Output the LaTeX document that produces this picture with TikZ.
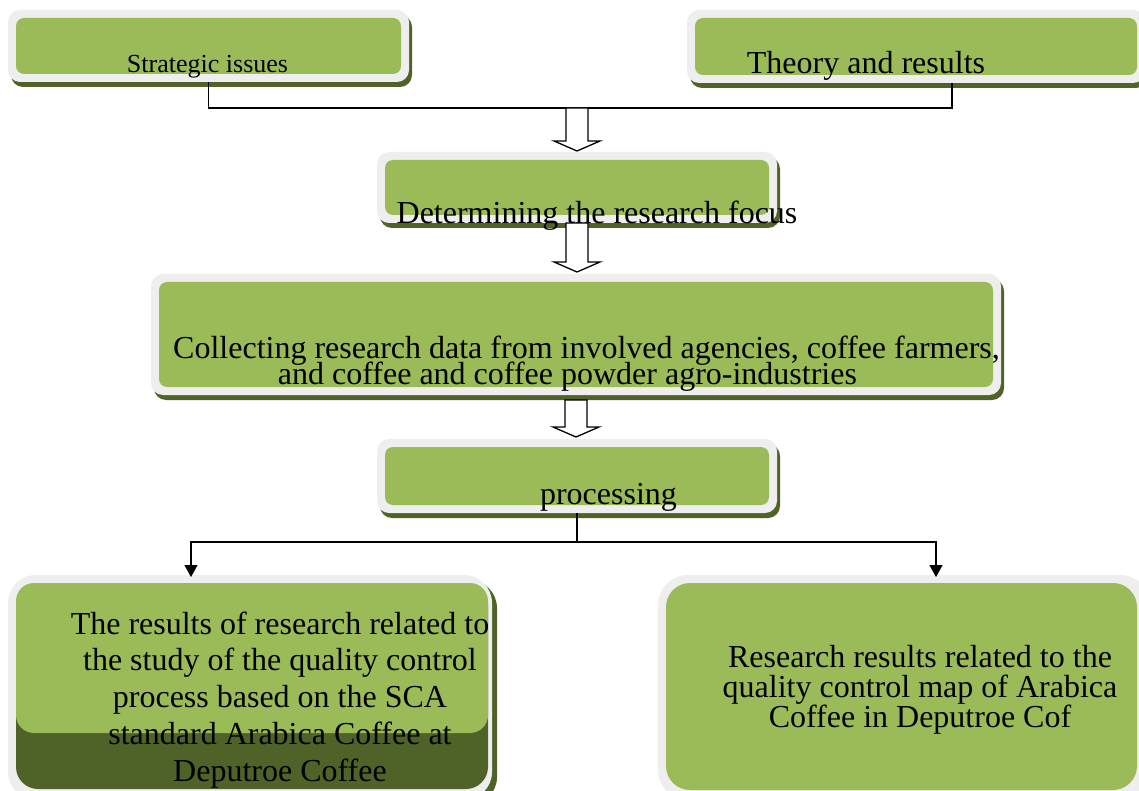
\documentclass[tikz,border=0pt]{standalone}
\usepackage{fontspec}
\setmainfont{Liberation Serif}
\usetikzlibrary{arrows.meta,calc}
\definecolor{boxgreen}{HTML}{9BBB59}
\definecolor{shadowolive}{HTML}{4F6228}
\definecolor{framegray}{HTML}{EEEEEE}
\newcommand\tightls{\setlength{\lineskiplimit}{-100pt}\setlength{\lineskip}{0pt}}
\newcommand\fsbig{\fontsize{32}{36.75}\selectfont\tightls}
\newcommand\fscoll{\fontsize{32}{26}\selectfont\tightls}
\newcommand\fsres{\fontsize{32}{30}\selectfont\tightls}
\newcommand\fssmall{\fontsize{26}{30}\selectfont}
\tikzset{
  frame/.style={rectangle, fill=framegray, inner sep=0pt, outer sep=0pt},
  conn/.style={line width=1.4pt, black},
  tip/.style={-{Triangle[width=13pt,length=12pt]}},
  txt/.style={inner sep=0pt, align=center, text=black},
}
% outer frame x1 y1 x2 y2, radius
\newcommand\gbox[6]{%
  \fill[shadowolive, rounded corners=#6] (#2+3,#3+5) rectangle (#4+3,#5+5);
  \node[frame, rounded corners=#6, minimum width={#4-#2}, minimum height={#5-#3}]
    (#1) at ({(#2+#4)/2},{(#3+#5)/2}) {};
  \fill[boxgreen, rounded corners=#6-4] (#2+8,#3+8) rectangle (#4-8,#5-8);
}
\newcommand\blockarrow[2]{%
  \draw[line width=1.3pt, fill=white] let \p1=#1, \p2=#2 in
    (\x1-11pt,\y1) -- (\x1-11pt,\y2+10pt) -- (\x1-23pt,\y2+10pt) -- (\x1,\y2)
    -- (\x1+23pt,\y2+10pt) -- (\x1+11pt,\y2+10pt) -- (\x1+11pt,\y1) -- cycle;}
\begin{document}
\begin{tikzpicture}[x=1pt,y=-1pt]
\clip (0,0) rectangle (1139,791);
\fill[white] (0,0) rectangle (1139,791);

% top boxes
\gbox{b1}{8}{10}{409}{82}{12}
\gbox{b2}{687}{10}{1145}{83}{12}
\gbox{b3}{377}{152}{777}{223}{12}
\gbox{b4}{151}{274}{1001}{395}{12}
\gbox{b5}{377}{439}{777}{513}{12}

% bottom left box
\fill[shadowolive, rounded corners=28] (13,580) rectangle (497,805);
\node[frame, rounded corners=28, minimum width=484, minimum height=225] (b6) at (250,687.5) {};
\fill[shadowolive, rounded corners=22] (16,583) rectangle (488,789);
\fill[boxgreen, rounded corners=18] (16,583) rectangle (488,733);

% bottom right box
\node[frame, rounded corners=30, minimum width=492, minimum height=225] (b7) at (904,687.5) {};
\fill[boxgreen, rounded corners=24] (666,583) rectangle (1137,790);

% texts
\node[txt, font=\fssmall, anchor=base] (l1) at (207.5,73) {Strategic issues};
\node[txt, font=\fsbig, anchor=base] (l2) at (866,74) {Theory and results};
\node[txt, font=\fsbig, anchor=base] (l3) at (597,224) {Determining the research focus};
\node[txt, font=\fscoll, anchor=base] (l4) at (586.5,384)
  {Collecting research data from involved agencies, coffee farmers,\\
   and coffee and coffee powder agro-industries\kern38pt};
\node[txt, font=\fsbig, anchor=base] (l5) at (608.5,504) {processing};
\node[txt, font=\fsbig, anchor=base] (l6) at (280,781)
  {The results of research related to\\ the study of the quality control\\
   process based on the SCA\\ standard Arabica Coffee at\\ Deputroe Coffee};
\node[txt, font=\fsres, anchor=base] (l7) at (920,727)
  {Research results related to the\\ quality control map of Arabica\\ Coffee in Deputroe Cof};

% connectors
\coordinate (j1) at (577,108);
\draw[conn] (b1.south) |- (j1) -| ([xshift=36pt]b2.south);
\blockarrow{(j1)}{([yshift=1pt]b3.north)}
\blockarrow{(b3.south)}{([yshift=2pt]b4.north)}
\blockarrow{([yshift=-5pt]b4.south)}{([yshift=2pt]b5.north)}

\path (b5.south) ++(0,29) coordinate (j2);
\coordinate (t6) at (191,577);
\coordinate (t7) at (936,577);
\draw[conn] (b5.south) -- (j2);
\draw[conn, tip] (j2) -| (t6);
\draw[conn, tip] (j2) -| (t7);
\end{tikzpicture}
\end{document}
